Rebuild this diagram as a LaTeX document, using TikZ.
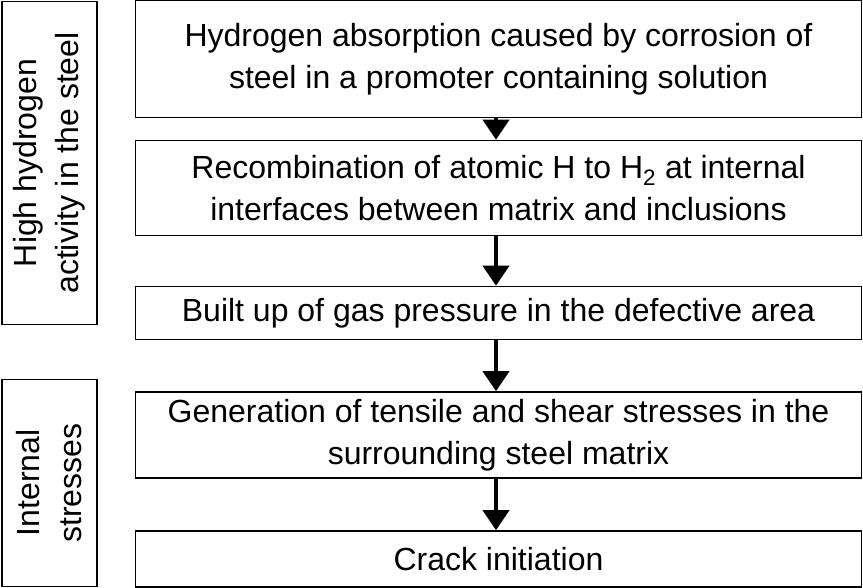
\documentclass[tikz,border=0pt]{standalone}
\usepackage{fontspec}
\setmainfont{Liberation Sans}
\usetikzlibrary{arrows.meta}
\begin{document}
\begin{tikzpicture}[x=1pt,y=-1pt,
 box/.style={draw,line width=1.6pt,inner sep=0pt},
 txt/.style={font=\fontsize{32}{42}\selectfont,align=center},
 arr/.style={line width=4pt,-{Triangle[length=20pt,width=26pt]}}]
\useasboundingbox (0,0) rectangle (863,588);
\node[box,minimum width=726pt,minimum height=117pt] (b1) at (498.5,59) {};
\node[txt] at (b1) {Hydrogen absorption caused by corrosion of\\steel in a promoter containing solution};
\node[box,minimum width=726pt,minimum height=95pt] (b2) at (498.5,188) {};
\node[txt] at (b2) {Recombination of atomic H to H\textsubscript{2} at internal\\interfaces between matrix and inclusions};
\node[box,minimum width=726pt,minimum height=53pt] (b3) at (498.5,313) {};
\node[txt] at (b3) {Built up of gas pressure in the defective area};
\node[box,minimum width=726pt,minimum height=86pt] (b4) at (498.5,435) {};
\node[txt] at (b4) {Generation of tensile and shear stresses in the\\surrounding steel matrix};
\node[box,minimum width=726pt,minimum height=56pt] (b5) at (498.5,559) {};
\node[txt] at (b5) {Crack initiation};
\node[box,minimum width=95pt,minimum height=323pt] (l1) at (49.5,163) {};
\node[txt,rotate=90] at (l1) {High hydrogen\\activity in the steel};
\node[box,minimum width=95pt,minimum height=207pt] (l2) at (49.5,483) {};
\node[txt,rotate=90] at (l2) {Internal\\stresses};
\foreach \a/\b in {b1/b2,b2/b3,b3/b4,b4/b5}
 \draw[arr] (\a.south -| 496,0) -- (\b.north -| 496,0);
\end{tikzpicture}
\end{document}
